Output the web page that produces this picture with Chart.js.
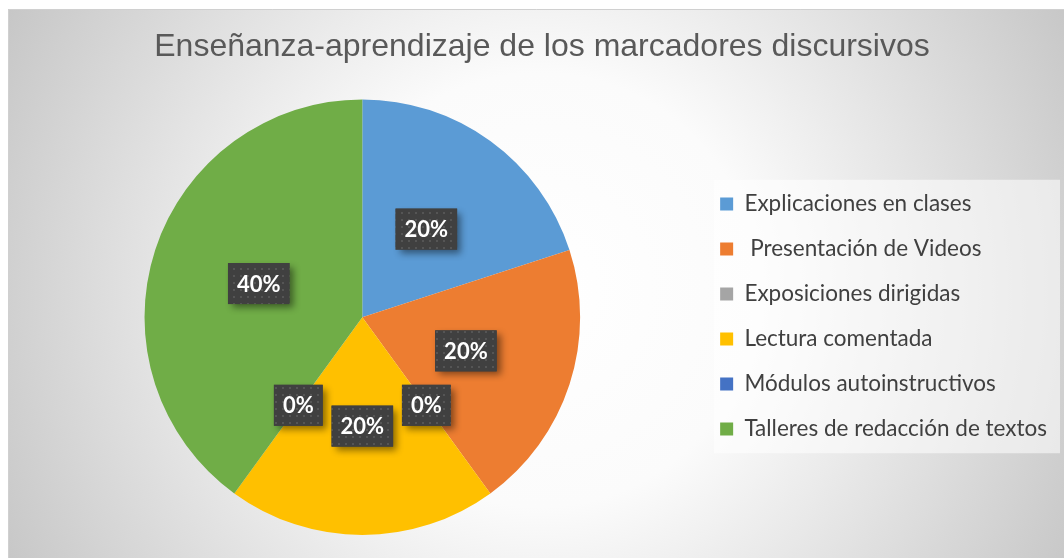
<!DOCTYPE html>
<html>
<head>
<meta charset="utf-8">
<script src="https://cdn.jsdelivr.net/npm/chart.js@4.4.1/dist/chart.umd.min.js"></script>
<style>
  html, body { margin: 0; padding: 0; background: #ffffff; }
  #wrap { width: 1064px; height: 558px; }
</style>
</head>
<body>
<div id="wrap"><canvas id="myChart" width="1064" height="558"></canvas></div>
<script>
// data
const categories = [
    'Explicaciones en clases',
    ' Presentación de Videos',
    'Exposiciones dirigidas',
    'Lectura comentada',
    'Módulos autoinstructivos',
    'Talleres de redacción de textos'
];
const percentages = [20, 20, 0, 20, 0, 40];
const sliceColors = ['#5B9BD5', '#ED7D31', '#A5A5A5', '#FFC000', '#4472C4', '#70AD47'];
const chartTitle = 'Enseñanza-aprendizaje de los marcadores discursivos';

// grey frame + soft radial background, light panel behind legend
const backgroundPlugin = {
    id: 'background',
    beforeDraw(chart) {
        const ctx = chart.ctx;
        ctx.save();
        ctx.fillStyle = '#ffffff';
        ctx.fillRect(0, 0, chart.width, chart.height);
        const g = ctx.createRadialGradient(540, 290, 0, 540, 290, 620);
        g.addColorStop(0, '#ffffff');
        g.addColorStop(0.35, '#fbfbfb');
        g.addColorStop(1, '#c4c4c4');
        ctx.fillStyle = g;
        ctx.fillRect(8, 9, chart.width - 8, chart.height - 9);
        ctx.strokeStyle = '#d0d0d0';
        ctx.lineWidth = 1;
        ctx.beginPath();
        ctx.moveTo(8.5, chart.height);
        ctx.lineTo(8.5, 9.5);
        ctx.lineTo(chart.width, 9.5);
        ctx.stroke();

        const lg = chart.legend;
        if (lg && lg.legendHitBoxes.length) {
            const boxes = lg.legendHitBoxes;
            const top = boxes[0].top - 13;
            const last = boxes[boxes.length - 1];
            const bottom = last.top + last.height + 13;
            ctx.fillStyle = 'rgba(255,255,255,0.55)';
            ctx.fillRect(714, top, 346, bottom - top);
        }
        ctx.restore();
    }
};

function dotPattern(ctx) {
    const p = document.createElement('canvas');
    p.width = 7; p.height = 7;
    const pc = p.getContext('2d');
    pc.fillStyle = '#404040';
    pc.fillRect(0, 0, 7, 7);
    pc.fillStyle = '#555555';
    pc.fillRect(2, 2, 2, 2);
    return ctx.createPattern(p, 'repeat');
}

// dark callout boxes with the percentages
const valueLabels = {
    id: 'valueLabels',
    afterDatasetsDraw(chart) {
        const ctx = chart.ctx;
        const meta = chart.getDatasetMeta(0);
        const pattern = dotPattern(ctx);
        ctx.save();
        ctx.font = 'bold 22px Lato, "Open Sans", sans-serif';
        meta.data.forEach((arc, i) => {
            const pos = arc.getCenterPoint();
            const txt = percentages[i] + '%';
            const w = ctx.measureText(txt).width + 18;
            const h = 41;
            const x = pos.x - w / 2, y = pos.y - h / 2;
            ctx.save();
            ctx.shadowColor = 'rgba(0,0,0,0.45)';
            ctx.shadowBlur = 7;
            ctx.shadowOffsetX = 4;
            ctx.shadowOffsetY = 4;
            ctx.fillStyle = '#404040';
            ctx.fillRect(x, y, w, h);
            ctx.restore();
            ctx.fillStyle = pattern;
            ctx.fillRect(x, y, w, h);
            ctx.fillStyle = '#ffffff';
            ctx.textAlign = 'center';
            ctx.textBaseline = 'middle';
            ctx.fillText(txt, pos.x, pos.y + 1);
        });
        ctx.restore();
    }
};

const ctx = document.getElementById('myChart');
const myChart = new Chart(ctx, {
    type: 'pie',
    data: {
        labels: categories,
        datasets: [{
            data: percentages,
            backgroundColor: sliceColors,
            borderWidth: 0
        }]
    },
    options: {
        responsive: false,
        animation: false,
        layout: {
            padding: { top: 9, left: 27, right: 7, bottom: 23 }
        },
        plugins: {
            title: {
                display: true,
                text: chartTitle,
                color: '#595959',
                font: { family: 'Liberation Sans, Arial, sans-serif', size: 32, weight: 'normal' },
                padding: { top: 19, bottom: 33 }
            },
            legend: {
                position: 'right',
                align: 'center',
                title: {
                    display: true,
                    text: '',
                    font: { size: 10 },
                    padding: { top: 77, bottom: 0 }
                },
                labels: {
                    color: '#404040',
                    font: { family: 'Lato, "Open Sans", sans-serif', size: 22.5 },
                    boxWidth: 13,
                    boxHeight: 13,
                    padding: 22.5
                }
            },
            tooltip: { enabled: false }
        }
    },
    plugins: [backgroundPlugin, valueLabels]
});
</script>
</body>
</html>
